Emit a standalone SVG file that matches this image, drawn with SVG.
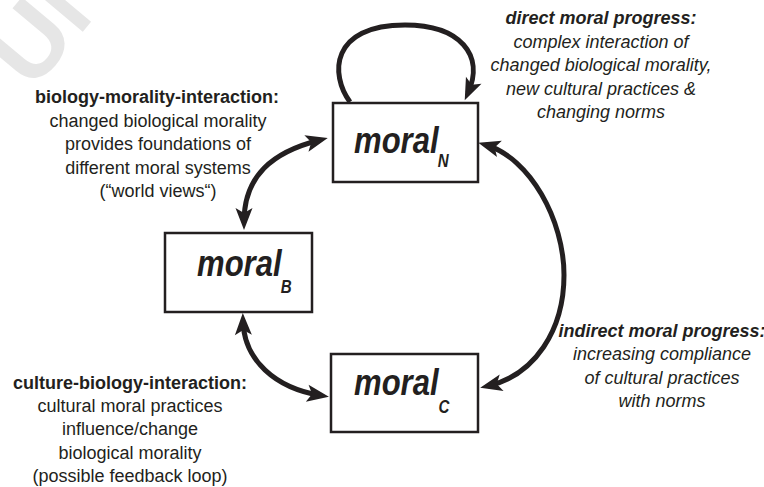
<svg xmlns="http://www.w3.org/2000/svg" width="764" height="487" viewBox="0 0 764 487">
<defs>
<style>
.box{fill:#ffffff;stroke:#231f20;stroke-width:2.5}
.lbl{font-family:"Liberation Sans",Arial,sans-serif;font-weight:bold;font-style:italic;fill:#231f20;font-size:37px}
.sub{font-size:18px}
.t{font-family:"Liberation Sans",Arial,sans-serif;font-size:18px;fill:#231f20;text-anchor:middle}
.b{font-weight:bold}
.i{font-style:italic}
.con{fill:none;stroke:#231f20;stroke-width:5}
.wm{font-family:"Liberation Sans",Arial,sans-serif;font-weight:bold;font-size:100px;fill:#e6e6e6}
</style>
<marker id="ah" markerUnits="userSpaceOnUse" markerWidth="24" markerHeight="22" refX="14" refY="11" orient="auto-start-reverse" overflow="visible">
<path d="M22,11 L0,2.5 L5,11 L0,19.5 Z" fill="#231f20"/>
</marker>
</defs>
<rect width="764" height="487" fill="#ffffff"/>
<text class="wm" transform="translate(32,92) rotate(-50)">UN</text>

<g id="connectors">
<path class="con" d="M350,102 C330,75 330,25 405,25 C460,25 485,55 468,93" marker-end="url(#ah)"/>
<path class="con" d="M320,140 C272,152 244,176 244,222" marker-start="url(#ah)" marker-end="url(#ah)"/>
<path class="con" d="M243,321 C244,360 275,388 321,395.5" marker-start="url(#ah)" marker-end="url(#ah)"/>
<path class="con" d="M486,145 C530,158 564,220 564,275 C564,330 535,375 488,386" marker-start="url(#ah)" marker-end="url(#ah)"/>
</g>

<g id="moralN">
<rect class="box" x="333" y="103" width="145" height="79"/>
<text class="lbl" transform="translate(354,153) scale(0.84,1)">moral<tspan class="sub" dx="-1" dy="14">N</tspan></text>
</g>
<g id="moralB">
<rect class="box" x="165" y="233" width="147" height="79"/>
<text class="lbl" transform="translate(197,276) scale(0.84,1)">moral<tspan class="sub" dx="-1" dy="17">B</tspan></text>
</g>
<g id="moralC">
<rect class="box" x="331" y="354" width="147" height="78"/>
<text class="lbl" transform="translate(354,395) scale(0.84,1)">moral<tspan class="sub" dx="0" dy="18">C</tspan></text>
</g>

<g id="label-direct">
<text class="t b i" x="601" y="24">direct moral progress:</text>
<text class="t i" x="601" y="47.5">complex interaction of</text>
<text class="t i" x="601" y="71">changed biological morality,</text>
<text class="t i" x="601" y="94.5">new cultural practices &amp;</text>
<text class="t i" x="601" y="118">changing norms</text>
</g>
<g id="label-biology">
<text class="t b" x="157" y="102.5">biology-morality-interaction:</text>
<text class="t" x="158" y="126.5">changed biological morality</text>
<text class="t" x="158" y="150">provides foundations of</text>
<text class="t" x="158" y="173.5">different moral systems</text>
<text class="t" x="158" y="197">(“world views“)</text>
</g>
<g id="label-culture">
<text class="t b" x="130" y="389">culture-biology-interaction:</text>
<text class="t" x="130" y="412">cultural moral practices</text>
<text class="t" x="130" y="435">influence/change</text>
<text class="t" x="130" y="458.5">biological morality</text>
<text class="t" x="130" y="481.5">(possible feedback loop)</text>
</g>
<g id="label-indirect">
<text class="t b i" x="662" y="337">indirect moral progress:</text>
<text class="t i" x="662" y="360">increasing compliance</text>
<text class="t i" x="662" y="383.5">of cultural practices</text>
<text class="t i" x="662" y="407">with norms</text>
</g>
</svg>
